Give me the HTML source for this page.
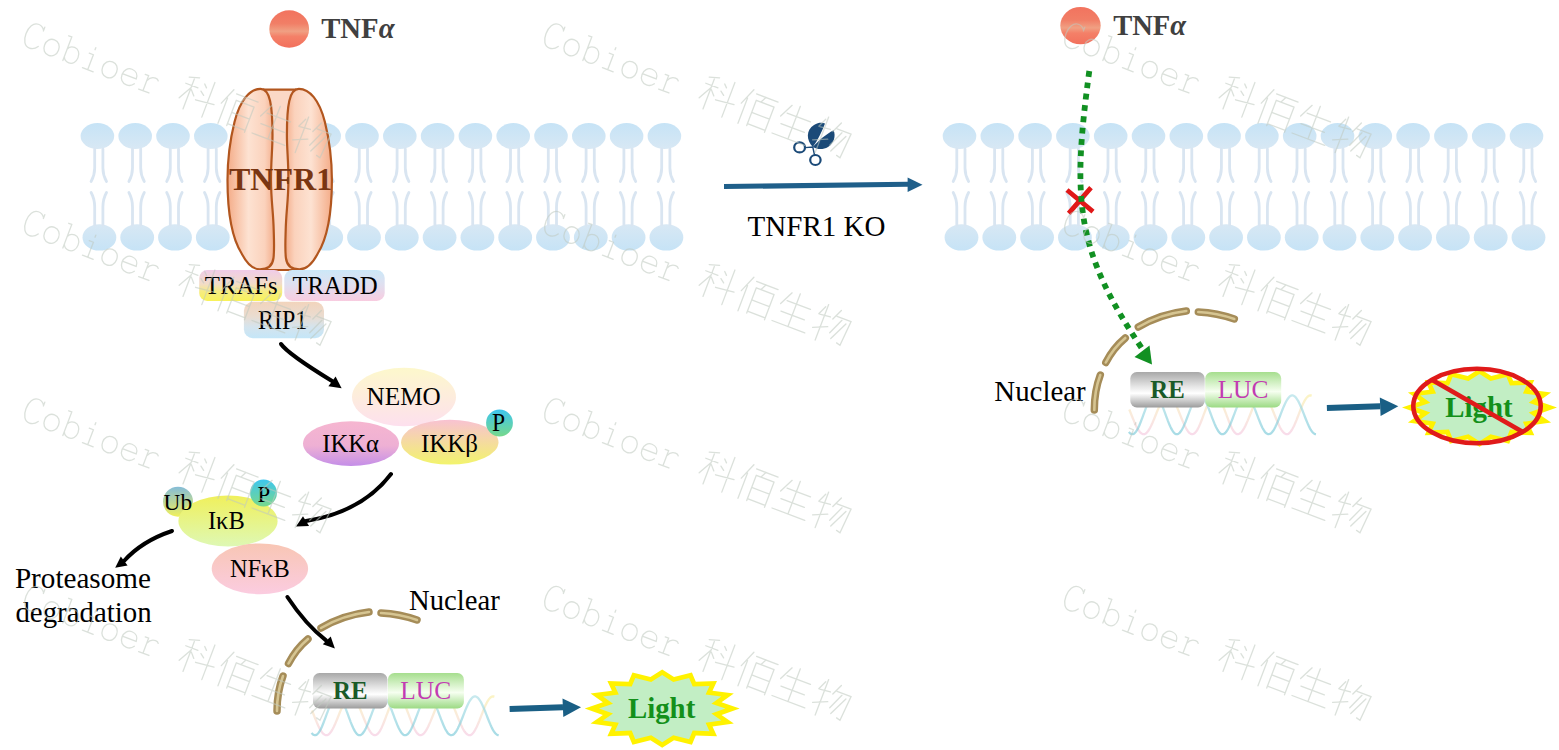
<!DOCTYPE html>
<html><head><meta charset="utf-8"><style>html,body{margin:0;padding:0;background:#fff;overflow:hidden}svg{display:block}</style></head>
<body><svg width="1559" height="750" viewBox="0 0 1559 750"><defs><linearGradient id="headT" x1="0" y1="0" x2="0" y2="1" ><stop offset="0" stop-color="#c6e3f6"/><stop offset="1" stop-color="#d8e8f4"/></linearGradient><linearGradient id="headB" x1="0" y1="0" x2="0" y2="1" ><stop offset="0" stop-color="#d8e8f4"/><stop offset="1" stop-color="#c6e3f6"/></linearGradient><linearGradient id="ball" x1="0" y1="0" x2="0" y2="1" ><stop offset="0" stop-color="#f2735e"/><stop offset="0.35" stop-color="#f17e66"/><stop offset="0.56" stop-color="#f0a083"/><stop offset="0.7" stop-color="#f48068"/><stop offset="1" stop-color="#f2705c"/></linearGradient><linearGradient id="lobe" x1="0" y1="0" x2="1" y2="0" ><stop offset="0" stop-color="#f4ac88"/><stop offset="0.45" stop-color="#fde2d2"/><stop offset="0.8" stop-color="#fbd2bc"/><stop offset="1" stop-color="#f4ae8c"/></linearGradient><linearGradient id="trafs" x1="0" y1="0" x2="0" y2="1" ><stop offset="0" stop-color="#f0cce8"/><stop offset="0.45" stop-color="#f2dcc8"/><stop offset="0.7" stop-color="#f6ec80"/><stop offset="1" stop-color="#f8f25a"/></linearGradient><linearGradient id="tradd" x1="0" y1="0" x2="0" y2="1" ><stop offset="0" stop-color="#cce8f8"/><stop offset="0.45" stop-color="#dfe0f0"/><stop offset="1" stop-color="#f8cce0"/></linearGradient><linearGradient id="rip1" x1="0" y1="0" x2="0" y2="1" ><stop offset="0" stop-color="#f2d4bc"/><stop offset="0.4" stop-color="#eadcd0"/><stop offset="0.7" stop-color="#d4e4ee"/><stop offset="1" stop-color="#c4e6f8"/></linearGradient><linearGradient id="nemo" x1="0" y1="0" x2="0" y2="1" ><stop offset="0" stop-color="#fdf8cc"/><stop offset="1" stop-color="#fde0ee"/></linearGradient><linearGradient id="ikka" x1="0" y1="0" x2="0" y2="1" ><stop offset="0" stop-color="#f6b6d0"/><stop offset="0.55" stop-color="#eeb0d4"/><stop offset="1" stop-color="#c48ee8"/></linearGradient><linearGradient id="ikkb" x1="0" y1="0" x2="0" y2="1" ><stop offset="0" stop-color="#f8c2d2"/><stop offset="1" stop-color="#f2f46c"/></linearGradient><linearGradient id="pcirc" x1="0" y1="0" x2="0" y2="1" ><stop offset="0" stop-color="#3ec6ee"/><stop offset="1" stop-color="#76d88c"/></linearGradient><linearGradient id="ub" x1="0" y1="0" x2="0" y2="1" ><stop offset="0" stop-color="#84bcd8"/><stop offset="1" stop-color="#f0f05c"/></linearGradient><linearGradient id="ikb" x1="0" y1="0" x2="0" y2="1" ><stop offset="0" stop-color="#f0f05c"/><stop offset="1" stop-color="#def8b4"/></linearGradient><linearGradient id="nfkb" x1="0" y1="0" x2="0" y2="1" ><stop offset="0" stop-color="#f8c6b4"/><stop offset="1" stop-color="#fbcce0"/></linearGradient><linearGradient id="reg" x1="0" y1="0" x2="0" y2="1" ><stop offset="0" stop-color="#a8a8a8"/><stop offset="0.4" stop-color="#e4e4e4"/><stop offset="0.6" stop-color="#ffffff"/><stop offset="1" stop-color="#9c9c9c"/></linearGradient><linearGradient id="lucg" x1="0" y1="0" x2="0" y2="1" ><stop offset="0" stop-color="#a6de8e"/><stop offset="0.55" stop-color="#f6fff0"/><stop offset="1" stop-color="#9cda84"/></linearGradient><linearGradient id="dnaC" x1="0" y1="696" x2="0" y2="736" gradientUnits="userSpaceOnUse"><stop offset="0" stop-color="#a6dce4"/><stop offset="1" stop-color="#72c6d6"/></linearGradient><linearGradient id="dnaP" x1="0" y1="696" x2="0" y2="736" gradientUnits="userSpaceOnUse"><stop offset="0" stop-color="#faf0b0"/><stop offset="0.5" stop-color="#f8e4d0"/><stop offset="1" stop-color="#f6cfe4"/></linearGradient></defs><rect width="1559" height="750" fill="#fff"/><ellipse cx="97.4" cy="136.1" rx="16.8" ry="13" fill="url(#headT)"/><ellipse cx="99.4" cy="237.4" rx="16.9" ry="13.2" fill="url(#headB)"/><path d="M94.7,149 L94.7,168 Q94.7,175 91.1,181.5 M102.9,149 L102.9,168 Q102.9,175 106.5,181.5 M91.1,192.5 Q94.7,199 94.7,207 L94.7,225 M106.5,192.5 Q102.9,199 102.9,207 L102.9,225" stroke="#d9e5f1" stroke-width="2.8" fill="none" stroke-linecap="round"/><ellipse cx="135.2" cy="136.1" rx="16.8" ry="13" fill="url(#headT)"/><ellipse cx="137.2" cy="237.4" rx="16.9" ry="13.2" fill="url(#headB)"/><path d="M132.5,149 L132.5,168 Q132.5,175 128.9,181.5 M140.7,149 L140.7,168 Q140.7,175 144.3,181.5 M128.9,192.5 Q132.5,199 132.5,207 L132.5,225 M144.3,192.5 Q140.7,199 140.7,207 L140.7,225" stroke="#d9e5f1" stroke-width="2.8" fill="none" stroke-linecap="round"/><ellipse cx="173.0" cy="136.1" rx="16.8" ry="13" fill="url(#headT)"/><ellipse cx="175.0" cy="237.4" rx="16.9" ry="13.2" fill="url(#headB)"/><path d="M170.3,149 L170.3,168 Q170.3,175 166.7,181.5 M178.5,149 L178.5,168 Q178.5,175 182.1,181.5 M166.7,192.5 Q170.3,199 170.3,207 L170.3,225 M182.1,192.5 Q178.5,199 178.5,207 L178.5,225" stroke="#d9e5f1" stroke-width="2.8" fill="none" stroke-linecap="round"/><ellipse cx="210.8" cy="136.1" rx="16.8" ry="13" fill="url(#headT)"/><ellipse cx="212.8" cy="237.4" rx="16.9" ry="13.2" fill="url(#headB)"/><path d="M208.1,149 L208.1,168 Q208.1,175 204.5,181.5 M216.3,149 L216.3,168 Q216.3,175 219.9,181.5 M204.5,192.5 Q208.1,199 208.1,207 L208.1,225 M219.9,192.5 Q216.3,199 216.3,207 L216.3,225" stroke="#d9e5f1" stroke-width="2.8" fill="none" stroke-linecap="round"/><ellipse cx="248.6" cy="136.1" rx="16.8" ry="13" fill="url(#headT)"/><ellipse cx="250.6" cy="237.4" rx="16.9" ry="13.2" fill="url(#headB)"/><path d="M245.9,149 L245.9,168 Q245.9,175 242.3,181.5 M254.1,149 L254.1,168 Q254.1,175 257.7,181.5 M242.3,192.5 Q245.9,199 245.9,207 L245.9,225 M257.7,192.5 Q254.1,199 254.1,207 L254.1,225" stroke="#d9e5f1" stroke-width="2.8" fill="none" stroke-linecap="round"/><ellipse cx="286.4" cy="136.1" rx="16.8" ry="13" fill="url(#headT)"/><ellipse cx="288.4" cy="237.4" rx="16.9" ry="13.2" fill="url(#headB)"/><path d="M283.7,149 L283.7,168 Q283.7,175 280.1,181.5 M291.9,149 L291.9,168 Q291.9,175 295.5,181.5 M280.1,192.5 Q283.7,199 283.7,207 L283.7,225 M295.5,192.5 Q291.9,199 291.9,207 L291.9,225" stroke="#d9e5f1" stroke-width="2.8" fill="none" stroke-linecap="round"/><ellipse cx="324.2" cy="136.1" rx="16.8" ry="13" fill="url(#headT)"/><ellipse cx="326.2" cy="237.4" rx="16.9" ry="13.2" fill="url(#headB)"/><path d="M321.5,149 L321.5,168 Q321.5,175 317.9,181.5 M329.7,149 L329.7,168 Q329.7,175 333.3,181.5 M317.9,192.5 Q321.5,199 321.5,207 L321.5,225 M333.3,192.5 Q329.7,199 329.7,207 L329.7,225" stroke="#d9e5f1" stroke-width="2.8" fill="none" stroke-linecap="round"/><ellipse cx="362.0" cy="136.1" rx="16.8" ry="13" fill="url(#headT)"/><ellipse cx="364.0" cy="237.4" rx="16.9" ry="13.2" fill="url(#headB)"/><path d="M359.3,149 L359.3,168 Q359.3,175 355.7,181.5 M367.5,149 L367.5,168 Q367.5,175 371.1,181.5 M355.7,192.5 Q359.3,199 359.3,207 L359.3,225 M371.1,192.5 Q367.5,199 367.5,207 L367.5,225" stroke="#d9e5f1" stroke-width="2.8" fill="none" stroke-linecap="round"/><ellipse cx="399.8" cy="136.1" rx="16.8" ry="13" fill="url(#headT)"/><ellipse cx="401.8" cy="237.4" rx="16.9" ry="13.2" fill="url(#headB)"/><path d="M397.1,149 L397.1,168 Q397.1,175 393.5,181.5 M405.3,149 L405.3,168 Q405.3,175 408.9,181.5 M393.5,192.5 Q397.1,199 397.1,207 L397.1,225 M408.9,192.5 Q405.3,199 405.3,207 L405.3,225" stroke="#d9e5f1" stroke-width="2.8" fill="none" stroke-linecap="round"/><ellipse cx="437.6" cy="136.1" rx="16.8" ry="13" fill="url(#headT)"/><ellipse cx="439.6" cy="237.4" rx="16.9" ry="13.2" fill="url(#headB)"/><path d="M434.9,149 L434.9,168 Q434.9,175 431.3,181.5 M443.1,149 L443.1,168 Q443.1,175 446.7,181.5 M431.3,192.5 Q434.9,199 434.9,207 L434.9,225 M446.7,192.5 Q443.1,199 443.1,207 L443.1,225" stroke="#d9e5f1" stroke-width="2.8" fill="none" stroke-linecap="round"/><ellipse cx="475.4" cy="136.1" rx="16.8" ry="13" fill="url(#headT)"/><ellipse cx="477.4" cy="237.4" rx="16.9" ry="13.2" fill="url(#headB)"/><path d="M472.7,149 L472.7,168 Q472.7,175 469.1,181.5 M480.9,149 L480.9,168 Q480.9,175 484.5,181.5 M469.1,192.5 Q472.7,199 472.7,207 L472.7,225 M484.5,192.5 Q480.9,199 480.9,207 L480.9,225" stroke="#d9e5f1" stroke-width="2.8" fill="none" stroke-linecap="round"/><ellipse cx="513.2" cy="136.1" rx="16.8" ry="13" fill="url(#headT)"/><ellipse cx="515.2" cy="237.4" rx="16.9" ry="13.2" fill="url(#headB)"/><path d="M510.5,149 L510.5,168 Q510.5,175 506.9,181.5 M518.7,149 L518.7,168 Q518.7,175 522.3,181.5 M506.9,192.5 Q510.5,199 510.5,207 L510.5,225 M522.3,192.5 Q518.7,199 518.7,207 L518.7,225" stroke="#d9e5f1" stroke-width="2.8" fill="none" stroke-linecap="round"/><ellipse cx="551.0" cy="136.1" rx="16.8" ry="13" fill="url(#headT)"/><ellipse cx="553.0" cy="237.4" rx="16.9" ry="13.2" fill="url(#headB)"/><path d="M548.3,149 L548.3,168 Q548.3,175 544.7,181.5 M556.5,149 L556.5,168 Q556.5,175 560.1,181.5 M544.7,192.5 Q548.3,199 548.3,207 L548.3,225 M560.1,192.5 Q556.5,199 556.5,207 L556.5,225" stroke="#d9e5f1" stroke-width="2.8" fill="none" stroke-linecap="round"/><ellipse cx="588.8" cy="136.1" rx="16.8" ry="13" fill="url(#headT)"/><ellipse cx="590.8" cy="237.4" rx="16.9" ry="13.2" fill="url(#headB)"/><path d="M586.1,149 L586.1,168 Q586.1,175 582.5,181.5 M594.3,149 L594.3,168 Q594.3,175 597.9,181.5 M582.5,192.5 Q586.1,199 586.1,207 L586.1,225 M597.9,192.5 Q594.3,199 594.3,207 L594.3,225" stroke="#d9e5f1" stroke-width="2.8" fill="none" stroke-linecap="round"/><ellipse cx="626.6" cy="136.1" rx="16.8" ry="13" fill="url(#headT)"/><ellipse cx="628.6" cy="237.4" rx="16.9" ry="13.2" fill="url(#headB)"/><path d="M623.9,149 L623.9,168 Q623.9,175 620.3,181.5 M632.1,149 L632.1,168 Q632.1,175 635.7,181.5 M620.3,192.5 Q623.9,199 623.9,207 L623.9,225 M635.7,192.5 Q632.1,199 632.1,207 L632.1,225" stroke="#d9e5f1" stroke-width="2.8" fill="none" stroke-linecap="round"/><ellipse cx="664.4" cy="136.1" rx="16.8" ry="13" fill="url(#headT)"/><ellipse cx="666.4" cy="237.4" rx="16.9" ry="13.2" fill="url(#headB)"/><path d="M661.7,149 L661.7,168 Q661.7,175 658.1,181.5 M669.9,149 L669.9,168 Q669.9,175 673.5,181.5 M658.1,192.5 Q661.7,199 661.7,207 L661.7,225 M673.5,192.5 Q669.9,199 669.9,207 L669.9,225" stroke="#d9e5f1" stroke-width="2.8" fill="none" stroke-linecap="round"/><ellipse cx="959.5" cy="136.1" rx="16.8" ry="13" fill="url(#headT)"/><ellipse cx="961.5" cy="237.4" rx="16.9" ry="13.2" fill="url(#headB)"/><path d="M956.8,149 L956.8,168 Q956.8,175 953.2,181.5 M965.0,149 L965.0,168 Q965.0,175 968.6,181.5 M953.2,192.5 Q956.8,199 956.8,207 L956.8,225 M968.6,192.5 Q965.0,199 965.0,207 L965.0,225" stroke="#d9e5f1" stroke-width="2.8" fill="none" stroke-linecap="round"/><ellipse cx="997.3" cy="136.1" rx="16.8" ry="13" fill="url(#headT)"/><ellipse cx="999.3" cy="237.4" rx="16.9" ry="13.2" fill="url(#headB)"/><path d="M994.6,149 L994.6,168 Q994.6,175 991.0,181.5 M1002.8,149 L1002.8,168 Q1002.8,175 1006.4,181.5 M991.0,192.5 Q994.6,199 994.6,207 L994.6,225 M1006.4,192.5 Q1002.8,199 1002.8,207 L1002.8,225" stroke="#d9e5f1" stroke-width="2.8" fill="none" stroke-linecap="round"/><ellipse cx="1035.1" cy="136.1" rx="16.8" ry="13" fill="url(#headT)"/><ellipse cx="1037.1" cy="237.4" rx="16.9" ry="13.2" fill="url(#headB)"/><path d="M1032.4,149 L1032.4,168 Q1032.4,175 1028.8,181.5 M1040.6,149 L1040.6,168 Q1040.6,175 1044.2,181.5 M1028.8,192.5 Q1032.4,199 1032.4,207 L1032.4,225 M1044.2,192.5 Q1040.6,199 1040.6,207 L1040.6,225" stroke="#d9e5f1" stroke-width="2.8" fill="none" stroke-linecap="round"/><ellipse cx="1072.9" cy="136.1" rx="16.8" ry="13" fill="url(#headT)"/><ellipse cx="1074.9" cy="237.4" rx="16.9" ry="13.2" fill="url(#headB)"/><path d="M1070.2,149 L1070.2,168 Q1070.2,175 1066.6,181.5 M1078.4,149 L1078.4,168 Q1078.4,175 1082.0,181.5 M1066.6,192.5 Q1070.2,199 1070.2,207 L1070.2,225 M1082.0,192.5 Q1078.4,199 1078.4,207 L1078.4,225" stroke="#d9e5f1" stroke-width="2.8" fill="none" stroke-linecap="round"/><ellipse cx="1110.7" cy="136.1" rx="16.8" ry="13" fill="url(#headT)"/><ellipse cx="1112.7" cy="237.4" rx="16.9" ry="13.2" fill="url(#headB)"/><path d="M1108.0,149 L1108.0,168 Q1108.0,175 1104.4,181.5 M1116.2,149 L1116.2,168 Q1116.2,175 1119.8,181.5 M1104.4,192.5 Q1108.0,199 1108.0,207 L1108.0,225 M1119.8,192.5 Q1116.2,199 1116.2,207 L1116.2,225" stroke="#d9e5f1" stroke-width="2.8" fill="none" stroke-linecap="round"/><ellipse cx="1148.5" cy="136.1" rx="16.8" ry="13" fill="url(#headT)"/><ellipse cx="1150.5" cy="237.4" rx="16.9" ry="13.2" fill="url(#headB)"/><path d="M1145.8,149 L1145.8,168 Q1145.8,175 1142.2,181.5 M1154.0,149 L1154.0,168 Q1154.0,175 1157.6,181.5 M1142.2,192.5 Q1145.8,199 1145.8,207 L1145.8,225 M1157.6,192.5 Q1154.0,199 1154.0,207 L1154.0,225" stroke="#d9e5f1" stroke-width="2.8" fill="none" stroke-linecap="round"/><ellipse cx="1186.3" cy="136.1" rx="16.8" ry="13" fill="url(#headT)"/><ellipse cx="1188.3" cy="237.4" rx="16.9" ry="13.2" fill="url(#headB)"/><path d="M1183.6,149 L1183.6,168 Q1183.6,175 1180.0,181.5 M1191.8,149 L1191.8,168 Q1191.8,175 1195.4,181.5 M1180.0,192.5 Q1183.6,199 1183.6,207 L1183.6,225 M1195.4,192.5 Q1191.8,199 1191.8,207 L1191.8,225" stroke="#d9e5f1" stroke-width="2.8" fill="none" stroke-linecap="round"/><ellipse cx="1224.1" cy="136.1" rx="16.8" ry="13" fill="url(#headT)"/><ellipse cx="1226.1" cy="237.4" rx="16.9" ry="13.2" fill="url(#headB)"/><path d="M1221.4,149 L1221.4,168 Q1221.4,175 1217.8,181.5 M1229.6,149 L1229.6,168 Q1229.6,175 1233.2,181.5 M1217.8,192.5 Q1221.4,199 1221.4,207 L1221.4,225 M1233.2,192.5 Q1229.6,199 1229.6,207 L1229.6,225" stroke="#d9e5f1" stroke-width="2.8" fill="none" stroke-linecap="round"/><ellipse cx="1261.9" cy="136.1" rx="16.8" ry="13" fill="url(#headT)"/><ellipse cx="1263.9" cy="237.4" rx="16.9" ry="13.2" fill="url(#headB)"/><path d="M1259.2,149 L1259.2,168 Q1259.2,175 1255.6,181.5 M1267.4,149 L1267.4,168 Q1267.4,175 1271.0,181.5 M1255.6,192.5 Q1259.2,199 1259.2,207 L1259.2,225 M1271.0,192.5 Q1267.4,199 1267.4,207 L1267.4,225" stroke="#d9e5f1" stroke-width="2.8" fill="none" stroke-linecap="round"/><ellipse cx="1299.7" cy="136.1" rx="16.8" ry="13" fill="url(#headT)"/><ellipse cx="1301.7" cy="237.4" rx="16.9" ry="13.2" fill="url(#headB)"/><path d="M1297.0,149 L1297.0,168 Q1297.0,175 1293.4,181.5 M1305.2,149 L1305.2,168 Q1305.2,175 1308.8,181.5 M1293.4,192.5 Q1297.0,199 1297.0,207 L1297.0,225 M1308.8,192.5 Q1305.2,199 1305.2,207 L1305.2,225" stroke="#d9e5f1" stroke-width="2.8" fill="none" stroke-linecap="round"/><ellipse cx="1337.5" cy="136.1" rx="16.8" ry="13" fill="url(#headT)"/><ellipse cx="1339.5" cy="237.4" rx="16.9" ry="13.2" fill="url(#headB)"/><path d="M1334.8,149 L1334.8,168 Q1334.8,175 1331.2,181.5 M1343.0,149 L1343.0,168 Q1343.0,175 1346.6,181.5 M1331.2,192.5 Q1334.8,199 1334.8,207 L1334.8,225 M1346.6,192.5 Q1343.0,199 1343.0,207 L1343.0,225" stroke="#d9e5f1" stroke-width="2.8" fill="none" stroke-linecap="round"/><ellipse cx="1375.3" cy="136.1" rx="16.8" ry="13" fill="url(#headT)"/><ellipse cx="1377.3" cy="237.4" rx="16.9" ry="13.2" fill="url(#headB)"/><path d="M1372.6,149 L1372.6,168 Q1372.6,175 1369.0,181.5 M1380.8,149 L1380.8,168 Q1380.8,175 1384.4,181.5 M1369.0,192.5 Q1372.6,199 1372.6,207 L1372.6,225 M1384.4,192.5 Q1380.8,199 1380.8,207 L1380.8,225" stroke="#d9e5f1" stroke-width="2.8" fill="none" stroke-linecap="round"/><ellipse cx="1413.1" cy="136.1" rx="16.8" ry="13" fill="url(#headT)"/><ellipse cx="1415.1" cy="237.4" rx="16.9" ry="13.2" fill="url(#headB)"/><path d="M1410.4,149 L1410.4,168 Q1410.4,175 1406.8,181.5 M1418.6,149 L1418.6,168 Q1418.6,175 1422.2,181.5 M1406.8,192.5 Q1410.4,199 1410.4,207 L1410.4,225 M1422.2,192.5 Q1418.6,199 1418.6,207 L1418.6,225" stroke="#d9e5f1" stroke-width="2.8" fill="none" stroke-linecap="round"/><ellipse cx="1450.9" cy="136.1" rx="16.8" ry="13" fill="url(#headT)"/><ellipse cx="1452.9" cy="237.4" rx="16.9" ry="13.2" fill="url(#headB)"/><path d="M1448.2,149 L1448.2,168 Q1448.2,175 1444.6,181.5 M1456.4,149 L1456.4,168 Q1456.4,175 1460.0,181.5 M1444.6,192.5 Q1448.2,199 1448.2,207 L1448.2,225 M1460.0,192.5 Q1456.4,199 1456.4,207 L1456.4,225" stroke="#d9e5f1" stroke-width="2.8" fill="none" stroke-linecap="round"/><ellipse cx="1488.7" cy="136.1" rx="16.8" ry="13" fill="url(#headT)"/><ellipse cx="1490.7" cy="237.4" rx="16.9" ry="13.2" fill="url(#headB)"/><path d="M1486.0,149 L1486.0,168 Q1486.0,175 1482.4,181.5 M1494.2,149 L1494.2,168 Q1494.2,175 1497.8,181.5 M1482.4,192.5 Q1486.0,199 1486.0,207 L1486.0,225 M1497.8,192.5 Q1494.2,199 1494.2,207 L1494.2,225" stroke="#d9e5f1" stroke-width="2.8" fill="none" stroke-linecap="round"/><ellipse cx="1526.5" cy="136.1" rx="16.8" ry="13" fill="url(#headT)"/><ellipse cx="1528.5" cy="237.4" rx="16.9" ry="13.2" fill="url(#headB)"/><path d="M1523.8,149 L1523.8,168 Q1523.8,175 1520.2,181.5 M1532.0,149 L1532.0,168 Q1532.0,175 1535.6,181.5 M1520.2,192.5 Q1523.8,199 1523.8,207 L1523.8,225 M1535.6,192.5 Q1532.0,199 1532.0,207 L1532.0,225" stroke="#d9e5f1" stroke-width="2.8" fill="none" stroke-linecap="round"/><ellipse cx="289.2" cy="29" rx="19.9" ry="18.8" fill="url(#ball)"/><ellipse cx="1080.5" cy="25.6" rx="20.2" ry="18.7" fill="url(#ball)"/><path d="M264,89.6 L295.4,89.6 L297,270 L262,270 Z" fill="#fbd8c6" stroke="#b2561e" stroke-width="2.2"/><path d="M260.5,88.8 C250,88.8 240,100 234.5,122 C229.5,142 227.5,160 227.5,180 C227.5,215 233,240 241.9,254 C245,260 251,269.3 260,269.3 C268,269.3 272.5,266 273.5,258 C274.5,250 274,240 273.7,230 C273.3,212 271,200 271,180 C271,160 272.5,150 272.5,135 C272.5,105 270,88.8 260.5,88.8 Z" fill="url(#lobe)" stroke="#b2561e" stroke-width="2.2"/><g transform="translate(559.4,0) scale(-1,1)"><path d="M260.5,88.8 C250,88.8 240,100 234.5,122 C229.5,142 227.5,160 227.5,180 C227.5,215 233,240 241.9,254 C245,260 251,269.3 260,269.3 C268,269.3 272.5,266 273.5,258 C274.5,250 274,240 273.7,230 C273.3,212 271,200 271,180 C271,160 272.5,150 272.5,135 C272.5,105 270,88.8 260.5,88.8 Z" fill="url(#lobe)" stroke="#b2561e" stroke-width="2.2"/></g><rect x="199.2" y="270.1" width="83" height="30.8" rx="8" fill="url(#trafs)"/><rect x="284.3" y="270.1" width="100.4" height="30.8" rx="8" fill="url(#tradd)"/><rect x="243.9" y="301.8" width="80.1" height="36.4" rx="9" fill="url(#rip1)"/><ellipse cx="404" cy="397" rx="52" ry="29.2" fill="url(#nemo)"/><ellipse cx="351" cy="443.6" rx="48" ry="22.4" fill="url(#ikka)"/><ellipse cx="449.8" cy="442.2" rx="48.7" ry="22.4" fill="url(#ikkb)"/><circle cx="499.5" cy="423" r="13.4" fill="url(#pcirc)"/><circle cx="178" cy="501.7" r="15" fill="url(#ub)"/><ellipse cx="228" cy="521" rx="49.6" ry="25.4" fill="url(#ikb)"/><ellipse cx="259.9" cy="568.8" rx="48.2" ry="25.4" fill="url(#nfkb)"/><circle cx="263.5" cy="493" r="13.4" fill="url(#pcirc)"/><path d="M281,344 Q288,354 332,381" stroke="#000" stroke-width="4" fill="none" stroke-linecap="round"/><path d="M341.6,388.2 L335.6,376.6 L328.4,386.2 Z" fill="#000"/><path d="M391,474 Q362,512 306,521" stroke="#000" stroke-width="4" fill="none" stroke-linecap="round"/><path d="M296,526.6 L303,516.3 L309.1,526.1 Z" fill="#000"/><path d="M172,531 Q142,541 124,561" stroke="#000" stroke-width="4" fill="none" stroke-linecap="round"/><path d="M115.2,567.8 L120.8,556.6 L127.6,565.4 Z" fill="#000"/><path d="M287.4,597 Q306,625 326,640.3" stroke="#000" stroke-width="4" fill="none" stroke-linecap="round"/><path d="M334.9,648.5 L330.7,636.4 L322.8,644.3 Z" fill="#000"/><path d="M724,186.6 L908,184.3" stroke="#1f5f8a" stroke-width="5" fill="none"/><path d="M922.5,184.8 L907.6,177.4 L907.6,192.1 Z" fill="#1f5f8a"/><path d="M812.8,147 C806,140 806,130 814,125 C818,122.5 822,122.5 825,123.4 C822,131 818,140 812.8,147 Z" fill="#1b4a78"/><path d="M812.8,147 C818,141 826,134 833.6,130.2 C836,136 834,143 828,147 C823,150 817,149.5 812.8,147 Z" fill="#1b4a78"/><ellipse cx="799.6" cy="147.4" rx="5.4" ry="5" fill="none" stroke="#1b4a78" stroke-width="2.2"/><ellipse cx="815.4" cy="160" rx="5.2" ry="5" fill="none" stroke="#1b4a78" stroke-width="2.2"/><path d="M805,147.6 L812.8,147 L814.5,155" fill="none" stroke="#1b4a78" stroke-width="1.4"/><path d="M283,676 Q277,692 277,711" stroke="#a58c58" stroke-width="7.5" fill="none" stroke-linecap="round"/><path d="M283,676 Q277,692 277,711" stroke="#d6c592" stroke-width="2.6" fill="none" stroke-linecap="round"/><path d="M288.5,663.5 Q296,649 308,639" stroke="#a58c58" stroke-width="7.5" fill="none" stroke-linecap="round"/><path d="M288.5,663.5 Q296,649 308,639" stroke="#d6c592" stroke-width="2.6" fill="none" stroke-linecap="round"/><path d="M321,628 Q343,615 369,612" stroke="#a58c58" stroke-width="7.5" fill="none" stroke-linecap="round"/><path d="M321,628 Q343,615 369,612" stroke="#d6c592" stroke-width="2.6" fill="none" stroke-linecap="round"/><path d="M381,613 Q400,614 417,620" stroke="#a58c58" stroke-width="7.5" fill="none" stroke-linecap="round"/><path d="M381,613 Q400,614 417,620" stroke="#d6c592" stroke-width="2.6" fill="none" stroke-linecap="round"/><polyline points="312.0,710.5 312.8,712.5 313.6,714.5 314.4,716.5 315.2,718.5 316.0,720.4 316.8,722.4 317.6,724.2 318.4,726.0 319.2,727.6 320.0,729.1 320.8,730.5 321.6,731.7 322.4,732.8 323.2,733.7 324.0,734.4 324.8,734.8 325.6,735.1 326.4,735.2 327.2,735.1 328.0,734.7 328.8,734.2 329.6,733.5 330.4,732.5 331.2,731.5 332.0,730.2 332.8,728.8 333.6,727.2 334.4,725.5 335.2,723.8 336.0,721.9 336.8,720.0 337.6,718.0 338.4,716.0 339.2,714.0 340.0,712.0 340.8,710.1 341.6,708.2 342.4,706.4 343.2,704.7 344.0,703.1 344.8,701.7 345.6,700.4 346.4,699.2 347.2,698.3 348.0,697.5 348.8,696.9 349.6,696.6 350.4,696.4 351.2,696.4 352.0,696.7 352.8,697.1 353.6,697.8 354.4,698.6 355.2,699.6 356.0,700.8 356.8,702.2 357.6,703.7 358.4,705.3 359.2,707.1 360.0,708.9 360.8,710.8 361.6,712.7 362.4,714.7 363.2,716.7 364.0,718.7 364.8,720.7 365.6,722.6 366.4,724.4 367.2,726.2 368.0,727.8 368.8,729.3 369.6,730.7 370.4,731.9 371.2,732.9 372.0,733.8 372.8,734.4 373.6,734.9 374.4,735.1 375.2,735.2 376.0,735.0 376.8,734.6 377.6,734.0 378.4,733.1 379.2,732.0 380.0,730.8 380.8,729.3 381.6,727.7 382.4,725.9 383.2,724.0 384.0,722.0 384.8,720.0 385.6,717.9 386.4,715.7 387.2,713.6 388.0,711.5 388.8,709.4 389.6,707.4 390.4,705.6 391.2,703.8 392.0,702.2 392.8,700.8 393.6,699.5 394.4,698.4 395.2,697.6 396.0,697.0 396.8,696.6 397.6,696.4 398.4,696.5 399.2,696.8 400.0,697.3 400.8,698.1 401.6,699.1 402.4,700.3 403.2,701.6 404.0,703.2 404.8,704.9 405.6,706.7 406.4,708.7 407.2,710.7 408.0,712.8 408.8,714.9 409.6,717.1 410.4,719.2 411.2,721.3 412.0,723.3 412.8,725.2 413.6,727.0 414.4,728.7 415.2,730.2 416.0,731.6 416.8,732.7 417.6,733.7 418.4,734.4 419.2,734.9 420.0,735.2 420.8,735.2 421.6,735.0 422.4,734.6 423.2,734.0 424.0,733.3 424.8,732.3 425.6,731.2 426.4,729.9 427.2,728.5 428.0,726.9 428.8,725.2 429.6,723.4 430.4,721.6 431.2,719.6 432.0,717.7 432.8,715.7 433.6,713.7 434.4,711.7 435.2,709.8 436.0,707.9 436.8,706.2 437.6,704.5 438.4,702.9 439.2,701.5 440.0,700.3 440.8,699.1 441.6,698.2 442.4,697.5 443.2,696.9 444.0,696.6 444.8,696.4 445.6,696.5 446.4,696.7 447.2,697.2 448.0,697.8 448.8,698.7 449.6,699.7 450.4,700.9 451.2,702.2 452.0,703.7 452.8,705.3 453.6,707.0 454.4,708.9 455.2,710.8 456.0,712.7 456.8,714.7 457.6,716.7 458.4,718.7 459.2,720.6 460.0,722.5 460.8,724.3 461.6,726.1 462.4,727.7 463.2,729.2 464.0,730.6 464.8,731.8 465.6,732.8 466.4,733.7 467.2,734.4 468.0,734.8 468.8,735.1 469.6,735.2 470.4,735.1 471.2,734.7 472.0,734.1 472.8,733.3 473.6,732.4 474.4,731.2 475.2,729.8 476.0,728.3 476.8,726.7 477.6,724.9 478.4,723.0 479.2,721.1 480.0,719.0 480.8,717.0 481.6,714.9 482.4,712.8 483.2,710.8 484.0,708.8 484.8,706.9 485.6,705.1 486.4,703.5 487.2,701.9 488.0,700.6 488.8,699.4 489.6,698.4 490.4,697.6 491.2,697.0 492.0,696.6 492.8,696.4 493.6,696.5 494.4,696.7" fill="none" stroke="url(#dnaP)" stroke-width="2.3" opacity="0.75"/><polyline points="311.5,732.9 312.3,733.8 313.1,734.5 313.9,735.0 314.7,735.2 315.5,735.2 316.3,734.9 317.1,734.4 317.9,733.6 318.7,732.6 319.5,731.4 320.3,730.0 321.1,728.4 321.9,726.7 322.7,724.8 323.5,722.8 324.3,720.7 325.1,718.6 325.9,716.4 326.7,714.2 327.5,712.1 328.3,709.9 329.1,707.9 329.9,705.9 330.7,704.1 331.5,702.5 332.3,700.9 333.1,699.6 333.9,698.5 334.7,697.6 335.5,697.0 336.3,696.6 337.1,696.4 337.9,696.5 338.7,696.8 339.5,697.4 340.3,698.2 341.1,699.2 341.9,700.4 342.7,701.9 343.5,703.5 344.3,705.2 345.1,707.1 345.9,709.2 346.7,711.3 347.5,713.4 348.3,715.6 349.1,717.8 349.9,719.9 350.7,722.1 351.5,724.1 352.3,726.0 353.1,727.8 353.9,729.4 354.7,730.9 355.5,732.2 356.3,733.3 357.1,734.1 357.9,734.7 358.7,735.1 359.5,735.2 360.3,735.1 361.1,734.7 361.9,734.2 362.7,733.4 363.5,732.3 364.3,731.1 365.1,729.7 365.9,728.2 366.7,726.4 367.5,724.6 368.3,722.7 369.1,720.6 369.9,718.5 370.7,716.4 371.5,714.3 372.3,712.2 373.1,710.1 373.9,708.1 374.7,706.2 375.5,704.4 376.3,702.7 377.1,701.2 377.9,699.9 378.7,698.8 379.5,697.9 380.3,697.2 381.1,696.7 381.9,696.4 382.7,696.4 383.5,696.6 384.3,697.1 385.1,697.8 385.9,698.7 386.7,699.8 387.5,701.1 388.3,702.5 389.1,704.2 389.9,705.9 390.7,707.8 391.5,709.8 392.3,711.9 393.1,714.0 393.9,716.1 394.7,718.3 395.5,720.4 396.3,722.4 397.1,724.4 397.9,726.2 398.7,728.0 399.5,729.5 400.3,731.0 401.1,732.2 401.9,733.2 402.7,734.1 403.5,734.7 404.3,735.1 405.1,735.2 405.9,735.1 406.7,734.8 407.5,734.3 408.3,733.5 409.1,732.5 409.9,731.4 410.7,730.0 411.5,728.5 412.3,726.8 413.1,725.0 413.9,723.1 414.7,721.1 415.5,719.0 416.3,716.9 417.1,714.8 417.9,712.7 418.7,710.6 419.5,708.6 420.3,706.7 421.1,704.9 421.9,703.2 422.7,701.7 423.5,700.3 424.3,699.1 425.1,698.2 425.9,697.4 426.7,696.8 427.5,696.5 428.3,696.4 429.1,696.5 429.9,696.9 430.7,697.5 431.5,698.3 432.3,699.3 433.1,700.5 433.9,701.9 434.7,703.4 435.5,705.1 436.3,707.0 437.1,708.9 437.9,710.9 438.7,713.0 439.5,715.1 440.3,717.2 441.1,719.3 441.9,721.3 442.7,723.3 443.5,725.2 444.3,727.0 445.1,728.7 445.9,730.2 446.7,731.5 447.5,732.7 448.3,733.6 449.1,734.3 449.9,734.8 450.7,735.1 451.5,735.2 452.3,735.0 453.1,734.7 453.9,734.1 454.7,733.3 455.5,732.3 456.3,731.1 457.1,729.7 457.9,728.2 458.7,726.6 459.5,724.8 460.3,723.0 461.1,721.0 461.9,719.0 462.7,717.0 463.5,714.9 464.3,712.9 465.1,710.8 465.9,708.9 466.7,707.0 467.5,705.2 468.3,703.6 469.1,702.0 469.9,700.7 470.7,699.5 471.5,698.5 472.3,697.6 473.1,697.0 473.9,696.6 474.7,696.4 475.5,696.4 476.3,696.7 477.1,697.1 477.9,697.8 478.7,698.7 479.5,699.8 480.3,701.0 481.1,702.4 481.9,704.0 482.7,705.7 483.5,707.5 484.3,709.4 485.1,711.3 485.9,713.4 486.7,715.4 487.5,717.5 488.3,719.5 489.1,721.5 489.9,723.4 490.7,725.3 491.5,727.0 492.3,728.6 493.1,730.1 493.9,731.4 494.7,732.5 495.5,733.5 496.3,734.2 497.1,734.8 497.9,735.1 498.7,735.2" fill="none" stroke="url(#dnaC)" stroke-width="2.3" opacity="0.62"/><rect x="313" y="673" width="74.4" height="35.5" rx="6.5" fill="url(#reg)"/><rect x="387.9" y="673" width="76" height="35.5" rx="6.5" fill="url(#lucg)"/><text x="333.00" y="698.90" font-family="Liberation Serif" font-size="24.83" font-weight="bold" fill="#1a5a28">RE</text><text x="400.33" y="699.40" font-family="Liberation Serif" font-size="25.36" fill="#c23cb2">LUC</text><path d="M509.6,709 L563,707.3" stroke="#1a5f85" stroke-width="6" fill="none"/><path d="M581,707.3 L562.5,698.5 L563.3,717 Z" fill="#1a5f85"/><polygon points="739.7,708.6 721.5,702.3 733.8,693.6 712.5,690.7 717.0,680.9 695.8,681.7 691.9,672.4 674.0,676.9 662.2,669.4 650.4,676.9 632.5,672.4 628.6,681.7 607.4,680.9 611.9,690.7 590.6,693.6 602.9,702.3 584.7,708.6 602.9,714.9 590.6,723.6 611.9,726.5 607.4,736.3 628.6,735.5 632.5,744.8 650.4,740.3 662.2,747.8 674.0,740.3 691.9,744.8 695.8,735.5 717.0,736.3 712.5,726.5 733.8,723.6 721.5,714.9" fill="#fff200"/><polygon points="725.4,708.6 711.4,703.7 721.4,696.6 705.6,694.4 709.5,685.9 692.7,686.6 689.1,677.9 673.2,682.0 662.2,675.0 651.2,682.0 635.3,677.9 631.7,686.6 614.9,685.9 618.8,694.4 603.0,696.6 613.0,703.7 599.0,708.6 613.0,713.5 603.0,720.6 618.8,722.8 614.9,731.3 631.7,730.6 635.3,739.3 651.2,735.2 662.2,742.2 673.2,735.2 689.1,739.3 692.7,730.6 709.5,731.3 705.6,722.8 721.4,720.6 711.4,713.5" fill="#c2eec4"/><text x="627.90" y="717.70" font-family="Liberation Serif" font-size="28.88" font-weight="bold" fill="#13901a">Light</text><g transform="translate(817.3,-301)"><path d="M283,676 Q277,692 277,711" stroke="#a58c58" stroke-width="7.5" fill="none" stroke-linecap="round"/><path d="M283,676 Q277,692 277,711" stroke="#d6c592" stroke-width="2.6" fill="none" stroke-linecap="round"/><path d="M288.5,663.5 Q296,649 308,639" stroke="#a58c58" stroke-width="7.5" fill="none" stroke-linecap="round"/><path d="M288.5,663.5 Q296,649 308,639" stroke="#d6c592" stroke-width="2.6" fill="none" stroke-linecap="round"/><path d="M321,628 Q343,615 369,612" stroke="#a58c58" stroke-width="7.5" fill="none" stroke-linecap="round"/><path d="M321,628 Q343,615 369,612" stroke="#d6c592" stroke-width="2.6" fill="none" stroke-linecap="round"/><path d="M381,613 Q400,614 417,620" stroke="#a58c58" stroke-width="7.5" fill="none" stroke-linecap="round"/><path d="M381,613 Q400,614 417,620" stroke="#d6c592" stroke-width="2.6" fill="none" stroke-linecap="round"/><polyline points="312.0,710.5 312.8,712.5 313.6,714.5 314.4,716.5 315.2,718.5 316.0,720.4 316.8,722.4 317.6,724.2 318.4,726.0 319.2,727.6 320.0,729.1 320.8,730.5 321.6,731.7 322.4,732.8 323.2,733.7 324.0,734.4 324.8,734.8 325.6,735.1 326.4,735.2 327.2,735.1 328.0,734.7 328.8,734.2 329.6,733.5 330.4,732.5 331.2,731.5 332.0,730.2 332.8,728.8 333.6,727.2 334.4,725.5 335.2,723.8 336.0,721.9 336.8,720.0 337.6,718.0 338.4,716.0 339.2,714.0 340.0,712.0 340.8,710.1 341.6,708.2 342.4,706.4 343.2,704.7 344.0,703.1 344.8,701.7 345.6,700.4 346.4,699.2 347.2,698.3 348.0,697.5 348.8,696.9 349.6,696.6 350.4,696.4 351.2,696.4 352.0,696.7 352.8,697.1 353.6,697.8 354.4,698.6 355.2,699.6 356.0,700.8 356.8,702.2 357.6,703.7 358.4,705.3 359.2,707.1 360.0,708.9 360.8,710.8 361.6,712.7 362.4,714.7 363.2,716.7 364.0,718.7 364.8,720.7 365.6,722.6 366.4,724.4 367.2,726.2 368.0,727.8 368.8,729.3 369.6,730.7 370.4,731.9 371.2,732.9 372.0,733.8 372.8,734.4 373.6,734.9 374.4,735.1 375.2,735.2 376.0,735.0 376.8,734.6 377.6,734.0 378.4,733.1 379.2,732.0 380.0,730.8 380.8,729.3 381.6,727.7 382.4,725.9 383.2,724.0 384.0,722.0 384.8,720.0 385.6,717.9 386.4,715.7 387.2,713.6 388.0,711.5 388.8,709.4 389.6,707.4 390.4,705.6 391.2,703.8 392.0,702.2 392.8,700.8 393.6,699.5 394.4,698.4 395.2,697.6 396.0,697.0 396.8,696.6 397.6,696.4 398.4,696.5 399.2,696.8 400.0,697.3 400.8,698.1 401.6,699.1 402.4,700.3 403.2,701.6 404.0,703.2 404.8,704.9 405.6,706.7 406.4,708.7 407.2,710.7 408.0,712.8 408.8,714.9 409.6,717.1 410.4,719.2 411.2,721.3 412.0,723.3 412.8,725.2 413.6,727.0 414.4,728.7 415.2,730.2 416.0,731.6 416.8,732.7 417.6,733.7 418.4,734.4 419.2,734.9 420.0,735.2 420.8,735.2 421.6,735.0 422.4,734.6 423.2,734.0 424.0,733.3 424.8,732.3 425.6,731.2 426.4,729.9 427.2,728.5 428.0,726.9 428.8,725.2 429.6,723.4 430.4,721.6 431.2,719.6 432.0,717.7 432.8,715.7 433.6,713.7 434.4,711.7 435.2,709.8 436.0,707.9 436.8,706.2 437.6,704.5 438.4,702.9 439.2,701.5 440.0,700.3 440.8,699.1 441.6,698.2 442.4,697.5 443.2,696.9 444.0,696.6 444.8,696.4 445.6,696.5 446.4,696.7 447.2,697.2 448.0,697.8 448.8,698.7 449.6,699.7 450.4,700.9 451.2,702.2 452.0,703.7 452.8,705.3 453.6,707.0 454.4,708.9 455.2,710.8 456.0,712.7 456.8,714.7 457.6,716.7 458.4,718.7 459.2,720.6 460.0,722.5 460.8,724.3 461.6,726.1 462.4,727.7 463.2,729.2 464.0,730.6 464.8,731.8 465.6,732.8 466.4,733.7 467.2,734.4 468.0,734.8 468.8,735.1 469.6,735.2 470.4,735.1 471.2,734.7 472.0,734.1 472.8,733.3 473.6,732.4 474.4,731.2 475.2,729.8 476.0,728.3 476.8,726.7 477.6,724.9 478.4,723.0 479.2,721.1 480.0,719.0 480.8,717.0 481.6,714.9 482.4,712.8 483.2,710.8 484.0,708.8 484.8,706.9 485.6,705.1 486.4,703.5 487.2,701.9 488.0,700.6 488.8,699.4 489.6,698.4 490.4,697.6 491.2,697.0 492.0,696.6 492.8,696.4 493.6,696.5 494.4,696.7" fill="none" stroke="url(#dnaP)" stroke-width="2.3" opacity="0.75"/><polyline points="311.5,732.9 312.3,733.8 313.1,734.5 313.9,735.0 314.7,735.2 315.5,735.2 316.3,734.9 317.1,734.4 317.9,733.6 318.7,732.6 319.5,731.4 320.3,730.0 321.1,728.4 321.9,726.7 322.7,724.8 323.5,722.8 324.3,720.7 325.1,718.6 325.9,716.4 326.7,714.2 327.5,712.1 328.3,709.9 329.1,707.9 329.9,705.9 330.7,704.1 331.5,702.5 332.3,700.9 333.1,699.6 333.9,698.5 334.7,697.6 335.5,697.0 336.3,696.6 337.1,696.4 337.9,696.5 338.7,696.8 339.5,697.4 340.3,698.2 341.1,699.2 341.9,700.4 342.7,701.9 343.5,703.5 344.3,705.2 345.1,707.1 345.9,709.2 346.7,711.3 347.5,713.4 348.3,715.6 349.1,717.8 349.9,719.9 350.7,722.1 351.5,724.1 352.3,726.0 353.1,727.8 353.9,729.4 354.7,730.9 355.5,732.2 356.3,733.3 357.1,734.1 357.9,734.7 358.7,735.1 359.5,735.2 360.3,735.1 361.1,734.7 361.9,734.2 362.7,733.4 363.5,732.3 364.3,731.1 365.1,729.7 365.9,728.2 366.7,726.4 367.5,724.6 368.3,722.7 369.1,720.6 369.9,718.5 370.7,716.4 371.5,714.3 372.3,712.2 373.1,710.1 373.9,708.1 374.7,706.2 375.5,704.4 376.3,702.7 377.1,701.2 377.9,699.9 378.7,698.8 379.5,697.9 380.3,697.2 381.1,696.7 381.9,696.4 382.7,696.4 383.5,696.6 384.3,697.1 385.1,697.8 385.9,698.7 386.7,699.8 387.5,701.1 388.3,702.5 389.1,704.2 389.9,705.9 390.7,707.8 391.5,709.8 392.3,711.9 393.1,714.0 393.9,716.1 394.7,718.3 395.5,720.4 396.3,722.4 397.1,724.4 397.9,726.2 398.7,728.0 399.5,729.5 400.3,731.0 401.1,732.2 401.9,733.2 402.7,734.1 403.5,734.7 404.3,735.1 405.1,735.2 405.9,735.1 406.7,734.8 407.5,734.3 408.3,733.5 409.1,732.5 409.9,731.4 410.7,730.0 411.5,728.5 412.3,726.8 413.1,725.0 413.9,723.1 414.7,721.1 415.5,719.0 416.3,716.9 417.1,714.8 417.9,712.7 418.7,710.6 419.5,708.6 420.3,706.7 421.1,704.9 421.9,703.2 422.7,701.7 423.5,700.3 424.3,699.1 425.1,698.2 425.9,697.4 426.7,696.8 427.5,696.5 428.3,696.4 429.1,696.5 429.9,696.9 430.7,697.5 431.5,698.3 432.3,699.3 433.1,700.5 433.9,701.9 434.7,703.4 435.5,705.1 436.3,707.0 437.1,708.9 437.9,710.9 438.7,713.0 439.5,715.1 440.3,717.2 441.1,719.3 441.9,721.3 442.7,723.3 443.5,725.2 444.3,727.0 445.1,728.7 445.9,730.2 446.7,731.5 447.5,732.7 448.3,733.6 449.1,734.3 449.9,734.8 450.7,735.1 451.5,735.2 452.3,735.0 453.1,734.7 453.9,734.1 454.7,733.3 455.5,732.3 456.3,731.1 457.1,729.7 457.9,728.2 458.7,726.6 459.5,724.8 460.3,723.0 461.1,721.0 461.9,719.0 462.7,717.0 463.5,714.9 464.3,712.9 465.1,710.8 465.9,708.9 466.7,707.0 467.5,705.2 468.3,703.6 469.1,702.0 469.9,700.7 470.7,699.5 471.5,698.5 472.3,697.6 473.1,697.0 473.9,696.6 474.7,696.4 475.5,696.4 476.3,696.7 477.1,697.1 477.9,697.8 478.7,698.7 479.5,699.8 480.3,701.0 481.1,702.4 481.9,704.0 482.7,705.7 483.5,707.5 484.3,709.4 485.1,711.3 485.9,713.4 486.7,715.4 487.5,717.5 488.3,719.5 489.1,721.5 489.9,723.4 490.7,725.3 491.5,727.0 492.3,728.6 493.1,730.1 493.9,731.4 494.7,732.5 495.5,733.5 496.3,734.2 497.1,734.8 497.9,735.1 498.7,735.2" fill="none" stroke="url(#dnaC)" stroke-width="2.3" opacity="0.62"/><rect x="313" y="673" width="74.4" height="35.5" rx="6.5" fill="url(#reg)"/><rect x="387.9" y="673" width="76" height="35.5" rx="6.5" fill="url(#lucg)"/><text x="333.00" y="698.90" font-family="Liberation Serif" font-size="24.83" font-weight="bold" fill="#1a5a28">RE</text><text x="400.33" y="699.40" font-family="Liberation Serif" font-size="25.36" fill="#c23cb2">LUC</text><path d="M509.6,709 L563,707.3" stroke="#1a5f85" stroke-width="6" fill="none"/><path d="M581,707.3 L562.5,698.5 L563.3,717 Z" fill="#1a5f85"/><polygon points="739.7,708.6 721.5,702.3 733.8,693.6 712.5,690.7 717.0,680.9 695.8,681.7 691.9,672.4 674.0,676.9 662.2,669.4 650.4,676.9 632.5,672.4 628.6,681.7 607.4,680.9 611.9,690.7 590.6,693.6 602.9,702.3 584.7,708.6 602.9,714.9 590.6,723.6 611.9,726.5 607.4,736.3 628.6,735.5 632.5,744.8 650.4,740.3 662.2,747.8 674.0,740.3 691.9,744.8 695.8,735.5 717.0,736.3 712.5,726.5 733.8,723.6 721.5,714.9" fill="#fff200"/><polygon points="725.4,708.6 711.4,703.7 721.4,696.6 705.6,694.4 709.5,685.9 692.7,686.6 689.1,677.9 673.2,682.0 662.2,675.0 651.2,682.0 635.3,677.9 631.7,686.6 614.9,685.9 618.8,694.4 603.0,696.6 613.0,703.7 599.0,708.6 613.0,713.5 603.0,720.6 618.8,722.8 614.9,731.3 631.7,730.6 635.3,739.3 651.2,735.2 662.2,742.2 673.2,735.2 689.1,739.3 692.7,730.6 709.5,731.3 705.6,722.8 721.4,720.6 711.4,713.5" fill="#c2eec4"/><text x="627.90" y="717.70" font-family="Liberation Serif" font-size="28.88" font-weight="bold" fill="#13901a">Light</text></g><ellipse cx="1477" cy="406" rx="63.7" ry="37.2" fill="none" stroke="#e01a1a" stroke-width="4.6"/><path d="M1432.7,380.3 L1522.4,431.7" stroke="#e01a1a" stroke-width="4.6"/><path d="M1067,190 L1093,211.7 M1091,187.7 L1068.7,213.3" stroke="#e01818" stroke-width="4.8"/><path d="M1089.3,71 C1072,200 1075,250 1143,350" stroke="#119022" stroke-width="5.8" fill="none" stroke-dasharray="5.8 5.6"/><path d="M1152,364.5 L1134.5,357 L1149.5,345.5 Z" fill="#119022"/><text x="321.20" y="38.00" font-family="Liberation Serif" font-size="28.72" font-weight="bold" fill="#404040">TNF<tspan font-style="italic">α</tspan></text><text x="1113.22" y="34.70" font-family="Liberation Serif" font-size="28.55" font-weight="bold" fill="#404040">TNF<tspan font-style="italic">α</tspan></text><text x="229.00" y="190.00" font-family="Liberation Serif" font-size="32.04" font-weight="bold" fill="#7a3612">TNFR1</text><text x="204.80" y="293.50" font-family="Liberation Serif" font-size="24.73" fill="#000">TRAFs</text><text x="292.40" y="293.70" font-family="Liberation Serif" font-size="24.79" fill="#000">TRADD</text><g transform="translate(0,329.10) scale(1,1.12) translate(0,-329.10)"><text x="258.10" y="329.10" font-family="Liberation Serif" font-size="23.95" fill="#000">RIP1</text></g><text x="366.59" y="405.40" font-family="Liberation Serif" font-size="25.18" fill="#000">NEMO</text><text x="322.24" y="452.30" font-family="Liberation Serif" font-size="24.64" fill="#000">IKKα</text><text x="420.95" y="451.60" font-family="Liberation Serif" font-size="24.88" fill="#000">IKKβ</text><g transform="translate(0,431.40) scale(1,1.08) translate(0,-431.40)"><text x="492.08" y="431.40" font-family="Liberation Serif" font-size="23.54" fill="#000">P</text></g><text x="163.58" y="510.00" font-family="Liberation Serif" font-size="23.38" fill="#000">Ub</text><text x="207.95" y="528.70" font-family="Liberation Serif" font-size="24.48" fill="#000">IκB</text><text x="257.48" y="501.70" font-family="Liberation Serif" font-size="22.80" fill="#000">P</text><text x="230.00" y="577.00" font-family="Liberation Serif" font-size="24.35" fill="#000">NFκB</text><text x="14.89" y="587.70" font-family="Liberation Serif" font-size="29.17" fill="#000">Proteasome</text><text x="15.42" y="622.10" font-family="Liberation Serif" font-size="28.86" fill="#000">degradation</text><text x="409.00" y="610.00" font-family="Liberation Serif" font-size="28.66" fill="#000">Nuclear</text><text x="994.31" y="401.00" font-family="Liberation Serif" font-size="28.87" fill="#000">Nuclear</text><text x="747.60" y="235.60" font-family="Liberation Serif" font-size="29.03" fill="#000">TNFR1 KO</text><g transform="translate(20.3,40.7) rotate(20.8)" stroke="#c0cac0" opacity="0.56" stroke-width="1.3" fill="none" stroke-linecap="round"><path d="M17.5,-20.5 L17.5,-24.5 M17.2,-21.5 C15.5,-24 13.2,-25 10.5,-25 C5.2,-25 2.2,-19 2.2,-12 C2.2,-4.8 5.2,0.5 10.6,0.5 C13.8,0.5 16.3,-1.2 18.2,-4.2" transform="translate(0.6,3.2)"/><path d="M10.35,-16.2 C5.8,-16.2 2.9,-12.6 2.9,-7.9 C2.9,-3.1 5.8,0.4 10.35,0.4 C14.9,0.4 17.8,-3.1 17.8,-7.9 C17.8,-12.6 14.9,-16.2 10.35,-16.2 Z" transform="translate(21.3,3.2)"/><path d="M1.5,-25 L4.8,-25 L4.8,0.2 M4.8,-12 C6,-15 8.5,-16.2 11.2,-16.2 C15.2,-16.2 18,-12.8 18,-7.9 C18,-3 15.2,0.4 11.2,0.4 C8.5,0.4 6,-0.8 4.8,-4" transform="translate(42.0,3.2)"/><path d="M10.35,-23.5 L10.35,-21.3 M6.2,-16 L10.6,-16 L10.6,0 M5,0 L16.5,0" transform="translate(62.7,3.2)"/><path d="M10.35,-16.2 C5.8,-16.2 2.9,-12.6 2.9,-7.9 C2.9,-3.1 5.8,0.4 10.35,0.4 C14.9,0.4 17.8,-3.1 17.8,-7.9 C17.8,-12.6 14.9,-16.2 10.35,-16.2 Z" transform="translate(83.4,3.2)"/><path d="M3,-8.6 L17.8,-8.6 C17.8,-13.4 14.8,-16.2 10.5,-16.2 C6,-16.2 3,-12.6 3,-7.8 C3,-2.9 6.2,0.4 10.8,0.4 C13.8,0.4 16.2,-0.9 17.8,-3.4" transform="translate(104.1,3.2)"/><path d="M4,-16 L7.6,-16 L7.6,0 M3,0 L14,0 M7.6,-10.5 C9.2,-14.4 12,-16.2 15,-16.2 C16.6,-16.2 17.8,-15.6 18.4,-14.6" transform="translate(124.8,3.2)"/><path d="M13,-32 L3,-29 M2,-22 L15,-22 M8.5,-29 L8.5,3 M8.5,-20 L1,-6 M9.5,-18 L14,-13 M20,-28 L23,-25 M19,-20 L23,-17 M17,-10 L36,-12 M29,-33 L29,4" transform="translate(167.8,3)"/><path d="M9,-33 L2,-16 M6,-23 L6,4 M13,-30 L36,-30 M23,-30 L20,-24 M15,-24 L15,3 M34,-24 L34,3 M15,-24 L34,-24 M15,-11 L34,-11 M15,1 L34,1" transform="translate(208.1,3)"/><path d="M10,-32 L3,-18 M8,-23 L33,-23 M18,-34 L18,1 M6,-11 L31,-11 M1,1 L36,1" transform="translate(248.4,3)"/><path d="M6,-31 L2,-22 M3,-22 L14,-23 M8,-34 L8,4 M1,-7 L15,-13 M22,-33 L17,-22 M20,-26 L35,-26 L33,0 L29,-1 M26,-24 L19,-8 M31,-22 L22,-3" transform="translate(288.7,3)"/></g><g transform="translate(20.3,228.2) rotate(20.8)" stroke="#c0cac0" opacity="0.56" stroke-width="1.3" fill="none" stroke-linecap="round"><path d="M17.5,-20.5 L17.5,-24.5 M17.2,-21.5 C15.5,-24 13.2,-25 10.5,-25 C5.2,-25 2.2,-19 2.2,-12 C2.2,-4.8 5.2,0.5 10.6,0.5 C13.8,0.5 16.3,-1.2 18.2,-4.2" transform="translate(0.6,3.2)"/><path d="M10.35,-16.2 C5.8,-16.2 2.9,-12.6 2.9,-7.9 C2.9,-3.1 5.8,0.4 10.35,0.4 C14.9,0.4 17.8,-3.1 17.8,-7.9 C17.8,-12.6 14.9,-16.2 10.35,-16.2 Z" transform="translate(21.3,3.2)"/><path d="M1.5,-25 L4.8,-25 L4.8,0.2 M4.8,-12 C6,-15 8.5,-16.2 11.2,-16.2 C15.2,-16.2 18,-12.8 18,-7.9 C18,-3 15.2,0.4 11.2,0.4 C8.5,0.4 6,-0.8 4.8,-4" transform="translate(42.0,3.2)"/><path d="M10.35,-23.5 L10.35,-21.3 M6.2,-16 L10.6,-16 L10.6,0 M5,0 L16.5,0" transform="translate(62.7,3.2)"/><path d="M10.35,-16.2 C5.8,-16.2 2.9,-12.6 2.9,-7.9 C2.9,-3.1 5.8,0.4 10.35,0.4 C14.9,0.4 17.8,-3.1 17.8,-7.9 C17.8,-12.6 14.9,-16.2 10.35,-16.2 Z" transform="translate(83.4,3.2)"/><path d="M3,-8.6 L17.8,-8.6 C17.8,-13.4 14.8,-16.2 10.5,-16.2 C6,-16.2 3,-12.6 3,-7.8 C3,-2.9 6.2,0.4 10.8,0.4 C13.8,0.4 16.2,-0.9 17.8,-3.4" transform="translate(104.1,3.2)"/><path d="M4,-16 L7.6,-16 L7.6,0 M3,0 L14,0 M7.6,-10.5 C9.2,-14.4 12,-16.2 15,-16.2 C16.6,-16.2 17.8,-15.6 18.4,-14.6" transform="translate(124.8,3.2)"/><path d="M13,-32 L3,-29 M2,-22 L15,-22 M8.5,-29 L8.5,3 M8.5,-20 L1,-6 M9.5,-18 L14,-13 M20,-28 L23,-25 M19,-20 L23,-17 M17,-10 L36,-12 M29,-33 L29,4" transform="translate(167.8,3)"/><path d="M9,-33 L2,-16 M6,-23 L6,4 M13,-30 L36,-30 M23,-30 L20,-24 M15,-24 L15,3 M34,-24 L34,3 M15,-24 L34,-24 M15,-11 L34,-11 M15,1 L34,1" transform="translate(208.1,3)"/><path d="M10,-32 L3,-18 M8,-23 L33,-23 M18,-34 L18,1 M6,-11 L31,-11 M1,1 L36,1" transform="translate(248.4,3)"/><path d="M6,-31 L2,-22 M3,-22 L14,-23 M8,-34 L8,4 M1,-7 L15,-13 M22,-33 L17,-22 M20,-26 L35,-26 L33,0 L29,-1 M26,-24 L19,-8 M31,-22 L22,-3" transform="translate(288.7,3)"/></g><g transform="translate(20.3,415.7) rotate(20.8)" stroke="#c0cac0" opacity="0.56" stroke-width="1.3" fill="none" stroke-linecap="round"><path d="M17.5,-20.5 L17.5,-24.5 M17.2,-21.5 C15.5,-24 13.2,-25 10.5,-25 C5.2,-25 2.2,-19 2.2,-12 C2.2,-4.8 5.2,0.5 10.6,0.5 C13.8,0.5 16.3,-1.2 18.2,-4.2" transform="translate(0.6,3.2)"/><path d="M10.35,-16.2 C5.8,-16.2 2.9,-12.6 2.9,-7.9 C2.9,-3.1 5.8,0.4 10.35,0.4 C14.9,0.4 17.8,-3.1 17.8,-7.9 C17.8,-12.6 14.9,-16.2 10.35,-16.2 Z" transform="translate(21.3,3.2)"/><path d="M1.5,-25 L4.8,-25 L4.8,0.2 M4.8,-12 C6,-15 8.5,-16.2 11.2,-16.2 C15.2,-16.2 18,-12.8 18,-7.9 C18,-3 15.2,0.4 11.2,0.4 C8.5,0.4 6,-0.8 4.8,-4" transform="translate(42.0,3.2)"/><path d="M10.35,-23.5 L10.35,-21.3 M6.2,-16 L10.6,-16 L10.6,0 M5,0 L16.5,0" transform="translate(62.7,3.2)"/><path d="M10.35,-16.2 C5.8,-16.2 2.9,-12.6 2.9,-7.9 C2.9,-3.1 5.8,0.4 10.35,0.4 C14.9,0.4 17.8,-3.1 17.8,-7.9 C17.8,-12.6 14.9,-16.2 10.35,-16.2 Z" transform="translate(83.4,3.2)"/><path d="M3,-8.6 L17.8,-8.6 C17.8,-13.4 14.8,-16.2 10.5,-16.2 C6,-16.2 3,-12.6 3,-7.8 C3,-2.9 6.2,0.4 10.8,0.4 C13.8,0.4 16.2,-0.9 17.8,-3.4" transform="translate(104.1,3.2)"/><path d="M4,-16 L7.6,-16 L7.6,0 M3,0 L14,0 M7.6,-10.5 C9.2,-14.4 12,-16.2 15,-16.2 C16.6,-16.2 17.8,-15.6 18.4,-14.6" transform="translate(124.8,3.2)"/><path d="M13,-32 L3,-29 M2,-22 L15,-22 M8.5,-29 L8.5,3 M8.5,-20 L1,-6 M9.5,-18 L14,-13 M20,-28 L23,-25 M19,-20 L23,-17 M17,-10 L36,-12 M29,-33 L29,4" transform="translate(167.8,3)"/><path d="M9,-33 L2,-16 M6,-23 L6,4 M13,-30 L36,-30 M23,-30 L20,-24 M15,-24 L15,3 M34,-24 L34,3 M15,-24 L34,-24 M15,-11 L34,-11 M15,1 L34,1" transform="translate(208.1,3)"/><path d="M10,-32 L3,-18 M8,-23 L33,-23 M18,-34 L18,1 M6,-11 L31,-11 M1,1 L36,1" transform="translate(248.4,3)"/><path d="M6,-31 L2,-22 M3,-22 L14,-23 M8,-34 L8,4 M1,-7 L15,-13 M22,-33 L17,-22 M20,-26 L35,-26 L33,0 L29,-1 M26,-24 L19,-8 M31,-22 L22,-3" transform="translate(288.7,3)"/></g><g transform="translate(20.3,603.2) rotate(20.8)" stroke="#c0cac0" opacity="0.56" stroke-width="1.3" fill="none" stroke-linecap="round"><path d="M17.5,-20.5 L17.5,-24.5 M17.2,-21.5 C15.5,-24 13.2,-25 10.5,-25 C5.2,-25 2.2,-19 2.2,-12 C2.2,-4.8 5.2,0.5 10.6,0.5 C13.8,0.5 16.3,-1.2 18.2,-4.2" transform="translate(0.6,3.2)"/><path d="M10.35,-16.2 C5.8,-16.2 2.9,-12.6 2.9,-7.9 C2.9,-3.1 5.8,0.4 10.35,0.4 C14.9,0.4 17.8,-3.1 17.8,-7.9 C17.8,-12.6 14.9,-16.2 10.35,-16.2 Z" transform="translate(21.3,3.2)"/><path d="M1.5,-25 L4.8,-25 L4.8,0.2 M4.8,-12 C6,-15 8.5,-16.2 11.2,-16.2 C15.2,-16.2 18,-12.8 18,-7.9 C18,-3 15.2,0.4 11.2,0.4 C8.5,0.4 6,-0.8 4.8,-4" transform="translate(42.0,3.2)"/><path d="M10.35,-23.5 L10.35,-21.3 M6.2,-16 L10.6,-16 L10.6,0 M5,0 L16.5,0" transform="translate(62.7,3.2)"/><path d="M10.35,-16.2 C5.8,-16.2 2.9,-12.6 2.9,-7.9 C2.9,-3.1 5.8,0.4 10.35,0.4 C14.9,0.4 17.8,-3.1 17.8,-7.9 C17.8,-12.6 14.9,-16.2 10.35,-16.2 Z" transform="translate(83.4,3.2)"/><path d="M3,-8.6 L17.8,-8.6 C17.8,-13.4 14.8,-16.2 10.5,-16.2 C6,-16.2 3,-12.6 3,-7.8 C3,-2.9 6.2,0.4 10.8,0.4 C13.8,0.4 16.2,-0.9 17.8,-3.4" transform="translate(104.1,3.2)"/><path d="M4,-16 L7.6,-16 L7.6,0 M3,0 L14,0 M7.6,-10.5 C9.2,-14.4 12,-16.2 15,-16.2 C16.6,-16.2 17.8,-15.6 18.4,-14.6" transform="translate(124.8,3.2)"/><path d="M13,-32 L3,-29 M2,-22 L15,-22 M8.5,-29 L8.5,3 M8.5,-20 L1,-6 M9.5,-18 L14,-13 M20,-28 L23,-25 M19,-20 L23,-17 M17,-10 L36,-12 M29,-33 L29,4" transform="translate(167.8,3)"/><path d="M9,-33 L2,-16 M6,-23 L6,4 M13,-30 L36,-30 M23,-30 L20,-24 M15,-24 L15,3 M34,-24 L34,3 M15,-24 L34,-24 M15,-11 L34,-11 M15,1 L34,1" transform="translate(208.1,3)"/><path d="M10,-32 L3,-18 M8,-23 L33,-23 M18,-34 L18,1 M6,-11 L31,-11 M1,1 L36,1" transform="translate(248.4,3)"/><path d="M6,-31 L2,-22 M3,-22 L14,-23 M8,-34 L8,4 M1,-7 L15,-13 M22,-33 L17,-22 M20,-26 L35,-26 L33,0 L29,-1 M26,-24 L19,-8 M31,-22 L22,-3" transform="translate(288.7,3)"/></g><g transform="translate(540.3,40.7) rotate(20.8)" stroke="#c0cac0" opacity="0.56" stroke-width="1.3" fill="none" stroke-linecap="round"><path d="M17.5,-20.5 L17.5,-24.5 M17.2,-21.5 C15.5,-24 13.2,-25 10.5,-25 C5.2,-25 2.2,-19 2.2,-12 C2.2,-4.8 5.2,0.5 10.6,0.5 C13.8,0.5 16.3,-1.2 18.2,-4.2" transform="translate(0.6,3.2)"/><path d="M10.35,-16.2 C5.8,-16.2 2.9,-12.6 2.9,-7.9 C2.9,-3.1 5.8,0.4 10.35,0.4 C14.9,0.4 17.8,-3.1 17.8,-7.9 C17.8,-12.6 14.9,-16.2 10.35,-16.2 Z" transform="translate(21.3,3.2)"/><path d="M1.5,-25 L4.8,-25 L4.8,0.2 M4.8,-12 C6,-15 8.5,-16.2 11.2,-16.2 C15.2,-16.2 18,-12.8 18,-7.9 C18,-3 15.2,0.4 11.2,0.4 C8.5,0.4 6,-0.8 4.8,-4" transform="translate(42.0,3.2)"/><path d="M10.35,-23.5 L10.35,-21.3 M6.2,-16 L10.6,-16 L10.6,0 M5,0 L16.5,0" transform="translate(62.7,3.2)"/><path d="M10.35,-16.2 C5.8,-16.2 2.9,-12.6 2.9,-7.9 C2.9,-3.1 5.8,0.4 10.35,0.4 C14.9,0.4 17.8,-3.1 17.8,-7.9 C17.8,-12.6 14.9,-16.2 10.35,-16.2 Z" transform="translate(83.4,3.2)"/><path d="M3,-8.6 L17.8,-8.6 C17.8,-13.4 14.8,-16.2 10.5,-16.2 C6,-16.2 3,-12.6 3,-7.8 C3,-2.9 6.2,0.4 10.8,0.4 C13.8,0.4 16.2,-0.9 17.8,-3.4" transform="translate(104.1,3.2)"/><path d="M4,-16 L7.6,-16 L7.6,0 M3,0 L14,0 M7.6,-10.5 C9.2,-14.4 12,-16.2 15,-16.2 C16.6,-16.2 17.8,-15.6 18.4,-14.6" transform="translate(124.8,3.2)"/><path d="M13,-32 L3,-29 M2,-22 L15,-22 M8.5,-29 L8.5,3 M8.5,-20 L1,-6 M9.5,-18 L14,-13 M20,-28 L23,-25 M19,-20 L23,-17 M17,-10 L36,-12 M29,-33 L29,4" transform="translate(167.8,3)"/><path d="M9,-33 L2,-16 M6,-23 L6,4 M13,-30 L36,-30 M23,-30 L20,-24 M15,-24 L15,3 M34,-24 L34,3 M15,-24 L34,-24 M15,-11 L34,-11 M15,1 L34,1" transform="translate(208.1,3)"/><path d="M10,-32 L3,-18 M8,-23 L33,-23 M18,-34 L18,1 M6,-11 L31,-11 M1,1 L36,1" transform="translate(248.4,3)"/><path d="M6,-31 L2,-22 M3,-22 L14,-23 M8,-34 L8,4 M1,-7 L15,-13 M22,-33 L17,-22 M20,-26 L35,-26 L33,0 L29,-1 M26,-24 L19,-8 M31,-22 L22,-3" transform="translate(288.7,3)"/></g><g transform="translate(540.3,228.2) rotate(20.8)" stroke="#c0cac0" opacity="0.56" stroke-width="1.3" fill="none" stroke-linecap="round"><path d="M17.5,-20.5 L17.5,-24.5 M17.2,-21.5 C15.5,-24 13.2,-25 10.5,-25 C5.2,-25 2.2,-19 2.2,-12 C2.2,-4.8 5.2,0.5 10.6,0.5 C13.8,0.5 16.3,-1.2 18.2,-4.2" transform="translate(0.6,3.2)"/><path d="M10.35,-16.2 C5.8,-16.2 2.9,-12.6 2.9,-7.9 C2.9,-3.1 5.8,0.4 10.35,0.4 C14.9,0.4 17.8,-3.1 17.8,-7.9 C17.8,-12.6 14.9,-16.2 10.35,-16.2 Z" transform="translate(21.3,3.2)"/><path d="M1.5,-25 L4.8,-25 L4.8,0.2 M4.8,-12 C6,-15 8.5,-16.2 11.2,-16.2 C15.2,-16.2 18,-12.8 18,-7.9 C18,-3 15.2,0.4 11.2,0.4 C8.5,0.4 6,-0.8 4.8,-4" transform="translate(42.0,3.2)"/><path d="M10.35,-23.5 L10.35,-21.3 M6.2,-16 L10.6,-16 L10.6,0 M5,0 L16.5,0" transform="translate(62.7,3.2)"/><path d="M10.35,-16.2 C5.8,-16.2 2.9,-12.6 2.9,-7.9 C2.9,-3.1 5.8,0.4 10.35,0.4 C14.9,0.4 17.8,-3.1 17.8,-7.9 C17.8,-12.6 14.9,-16.2 10.35,-16.2 Z" transform="translate(83.4,3.2)"/><path d="M3,-8.6 L17.8,-8.6 C17.8,-13.4 14.8,-16.2 10.5,-16.2 C6,-16.2 3,-12.6 3,-7.8 C3,-2.9 6.2,0.4 10.8,0.4 C13.8,0.4 16.2,-0.9 17.8,-3.4" transform="translate(104.1,3.2)"/><path d="M4,-16 L7.6,-16 L7.6,0 M3,0 L14,0 M7.6,-10.5 C9.2,-14.4 12,-16.2 15,-16.2 C16.6,-16.2 17.8,-15.6 18.4,-14.6" transform="translate(124.8,3.2)"/><path d="M13,-32 L3,-29 M2,-22 L15,-22 M8.5,-29 L8.5,3 M8.5,-20 L1,-6 M9.5,-18 L14,-13 M20,-28 L23,-25 M19,-20 L23,-17 M17,-10 L36,-12 M29,-33 L29,4" transform="translate(167.8,3)"/><path d="M9,-33 L2,-16 M6,-23 L6,4 M13,-30 L36,-30 M23,-30 L20,-24 M15,-24 L15,3 M34,-24 L34,3 M15,-24 L34,-24 M15,-11 L34,-11 M15,1 L34,1" transform="translate(208.1,3)"/><path d="M10,-32 L3,-18 M8,-23 L33,-23 M18,-34 L18,1 M6,-11 L31,-11 M1,1 L36,1" transform="translate(248.4,3)"/><path d="M6,-31 L2,-22 M3,-22 L14,-23 M8,-34 L8,4 M1,-7 L15,-13 M22,-33 L17,-22 M20,-26 L35,-26 L33,0 L29,-1 M26,-24 L19,-8 M31,-22 L22,-3" transform="translate(288.7,3)"/></g><g transform="translate(540.3,415.7) rotate(20.8)" stroke="#c0cac0" opacity="0.56" stroke-width="1.3" fill="none" stroke-linecap="round"><path d="M17.5,-20.5 L17.5,-24.5 M17.2,-21.5 C15.5,-24 13.2,-25 10.5,-25 C5.2,-25 2.2,-19 2.2,-12 C2.2,-4.8 5.2,0.5 10.6,0.5 C13.8,0.5 16.3,-1.2 18.2,-4.2" transform="translate(0.6,3.2)"/><path d="M10.35,-16.2 C5.8,-16.2 2.9,-12.6 2.9,-7.9 C2.9,-3.1 5.8,0.4 10.35,0.4 C14.9,0.4 17.8,-3.1 17.8,-7.9 C17.8,-12.6 14.9,-16.2 10.35,-16.2 Z" transform="translate(21.3,3.2)"/><path d="M1.5,-25 L4.8,-25 L4.8,0.2 M4.8,-12 C6,-15 8.5,-16.2 11.2,-16.2 C15.2,-16.2 18,-12.8 18,-7.9 C18,-3 15.2,0.4 11.2,0.4 C8.5,0.4 6,-0.8 4.8,-4" transform="translate(42.0,3.2)"/><path d="M10.35,-23.5 L10.35,-21.3 M6.2,-16 L10.6,-16 L10.6,0 M5,0 L16.5,0" transform="translate(62.7,3.2)"/><path d="M10.35,-16.2 C5.8,-16.2 2.9,-12.6 2.9,-7.9 C2.9,-3.1 5.8,0.4 10.35,0.4 C14.9,0.4 17.8,-3.1 17.8,-7.9 C17.8,-12.6 14.9,-16.2 10.35,-16.2 Z" transform="translate(83.4,3.2)"/><path d="M3,-8.6 L17.8,-8.6 C17.8,-13.4 14.8,-16.2 10.5,-16.2 C6,-16.2 3,-12.6 3,-7.8 C3,-2.9 6.2,0.4 10.8,0.4 C13.8,0.4 16.2,-0.9 17.8,-3.4" transform="translate(104.1,3.2)"/><path d="M4,-16 L7.6,-16 L7.6,0 M3,0 L14,0 M7.6,-10.5 C9.2,-14.4 12,-16.2 15,-16.2 C16.6,-16.2 17.8,-15.6 18.4,-14.6" transform="translate(124.8,3.2)"/><path d="M13,-32 L3,-29 M2,-22 L15,-22 M8.5,-29 L8.5,3 M8.5,-20 L1,-6 M9.5,-18 L14,-13 M20,-28 L23,-25 M19,-20 L23,-17 M17,-10 L36,-12 M29,-33 L29,4" transform="translate(167.8,3)"/><path d="M9,-33 L2,-16 M6,-23 L6,4 M13,-30 L36,-30 M23,-30 L20,-24 M15,-24 L15,3 M34,-24 L34,3 M15,-24 L34,-24 M15,-11 L34,-11 M15,1 L34,1" transform="translate(208.1,3)"/><path d="M10,-32 L3,-18 M8,-23 L33,-23 M18,-34 L18,1 M6,-11 L31,-11 M1,1 L36,1" transform="translate(248.4,3)"/><path d="M6,-31 L2,-22 M3,-22 L14,-23 M8,-34 L8,4 M1,-7 L15,-13 M22,-33 L17,-22 M20,-26 L35,-26 L33,0 L29,-1 M26,-24 L19,-8 M31,-22 L22,-3" transform="translate(288.7,3)"/></g><g transform="translate(540.3,603.2) rotate(20.8)" stroke="#c0cac0" opacity="0.56" stroke-width="1.3" fill="none" stroke-linecap="round"><path d="M17.5,-20.5 L17.5,-24.5 M17.2,-21.5 C15.5,-24 13.2,-25 10.5,-25 C5.2,-25 2.2,-19 2.2,-12 C2.2,-4.8 5.2,0.5 10.6,0.5 C13.8,0.5 16.3,-1.2 18.2,-4.2" transform="translate(0.6,3.2)"/><path d="M10.35,-16.2 C5.8,-16.2 2.9,-12.6 2.9,-7.9 C2.9,-3.1 5.8,0.4 10.35,0.4 C14.9,0.4 17.8,-3.1 17.8,-7.9 C17.8,-12.6 14.9,-16.2 10.35,-16.2 Z" transform="translate(21.3,3.2)"/><path d="M1.5,-25 L4.8,-25 L4.8,0.2 M4.8,-12 C6,-15 8.5,-16.2 11.2,-16.2 C15.2,-16.2 18,-12.8 18,-7.9 C18,-3 15.2,0.4 11.2,0.4 C8.5,0.4 6,-0.8 4.8,-4" transform="translate(42.0,3.2)"/><path d="M10.35,-23.5 L10.35,-21.3 M6.2,-16 L10.6,-16 L10.6,0 M5,0 L16.5,0" transform="translate(62.7,3.2)"/><path d="M10.35,-16.2 C5.8,-16.2 2.9,-12.6 2.9,-7.9 C2.9,-3.1 5.8,0.4 10.35,0.4 C14.9,0.4 17.8,-3.1 17.8,-7.9 C17.8,-12.6 14.9,-16.2 10.35,-16.2 Z" transform="translate(83.4,3.2)"/><path d="M3,-8.6 L17.8,-8.6 C17.8,-13.4 14.8,-16.2 10.5,-16.2 C6,-16.2 3,-12.6 3,-7.8 C3,-2.9 6.2,0.4 10.8,0.4 C13.8,0.4 16.2,-0.9 17.8,-3.4" transform="translate(104.1,3.2)"/><path d="M4,-16 L7.6,-16 L7.6,0 M3,0 L14,0 M7.6,-10.5 C9.2,-14.4 12,-16.2 15,-16.2 C16.6,-16.2 17.8,-15.6 18.4,-14.6" transform="translate(124.8,3.2)"/><path d="M13,-32 L3,-29 M2,-22 L15,-22 M8.5,-29 L8.5,3 M8.5,-20 L1,-6 M9.5,-18 L14,-13 M20,-28 L23,-25 M19,-20 L23,-17 M17,-10 L36,-12 M29,-33 L29,4" transform="translate(167.8,3)"/><path d="M9,-33 L2,-16 M6,-23 L6,4 M13,-30 L36,-30 M23,-30 L20,-24 M15,-24 L15,3 M34,-24 L34,3 M15,-24 L34,-24 M15,-11 L34,-11 M15,1 L34,1" transform="translate(208.1,3)"/><path d="M10,-32 L3,-18 M8,-23 L33,-23 M18,-34 L18,1 M6,-11 L31,-11 M1,1 L36,1" transform="translate(248.4,3)"/><path d="M6,-31 L2,-22 M3,-22 L14,-23 M8,-34 L8,4 M1,-7 L15,-13 M22,-33 L17,-22 M20,-26 L35,-26 L33,0 L29,-1 M26,-24 L19,-8 M31,-22 L22,-3" transform="translate(288.7,3)"/></g><g transform="translate(1060.3,40.7) rotate(20.8)" stroke="#c0cac0" opacity="0.56" stroke-width="1.3" fill="none" stroke-linecap="round"><path d="M17.5,-20.5 L17.5,-24.5 M17.2,-21.5 C15.5,-24 13.2,-25 10.5,-25 C5.2,-25 2.2,-19 2.2,-12 C2.2,-4.8 5.2,0.5 10.6,0.5 C13.8,0.5 16.3,-1.2 18.2,-4.2" transform="translate(0.6,3.2)"/><path d="M10.35,-16.2 C5.8,-16.2 2.9,-12.6 2.9,-7.9 C2.9,-3.1 5.8,0.4 10.35,0.4 C14.9,0.4 17.8,-3.1 17.8,-7.9 C17.8,-12.6 14.9,-16.2 10.35,-16.2 Z" transform="translate(21.3,3.2)"/><path d="M1.5,-25 L4.8,-25 L4.8,0.2 M4.8,-12 C6,-15 8.5,-16.2 11.2,-16.2 C15.2,-16.2 18,-12.8 18,-7.9 C18,-3 15.2,0.4 11.2,0.4 C8.5,0.4 6,-0.8 4.8,-4" transform="translate(42.0,3.2)"/><path d="M10.35,-23.5 L10.35,-21.3 M6.2,-16 L10.6,-16 L10.6,0 M5,0 L16.5,0" transform="translate(62.7,3.2)"/><path d="M10.35,-16.2 C5.8,-16.2 2.9,-12.6 2.9,-7.9 C2.9,-3.1 5.8,0.4 10.35,0.4 C14.9,0.4 17.8,-3.1 17.8,-7.9 C17.8,-12.6 14.9,-16.2 10.35,-16.2 Z" transform="translate(83.4,3.2)"/><path d="M3,-8.6 L17.8,-8.6 C17.8,-13.4 14.8,-16.2 10.5,-16.2 C6,-16.2 3,-12.6 3,-7.8 C3,-2.9 6.2,0.4 10.8,0.4 C13.8,0.4 16.2,-0.9 17.8,-3.4" transform="translate(104.1,3.2)"/><path d="M4,-16 L7.6,-16 L7.6,0 M3,0 L14,0 M7.6,-10.5 C9.2,-14.4 12,-16.2 15,-16.2 C16.6,-16.2 17.8,-15.6 18.4,-14.6" transform="translate(124.8,3.2)"/><path d="M13,-32 L3,-29 M2,-22 L15,-22 M8.5,-29 L8.5,3 M8.5,-20 L1,-6 M9.5,-18 L14,-13 M20,-28 L23,-25 M19,-20 L23,-17 M17,-10 L36,-12 M29,-33 L29,4" transform="translate(167.8,3)"/><path d="M9,-33 L2,-16 M6,-23 L6,4 M13,-30 L36,-30 M23,-30 L20,-24 M15,-24 L15,3 M34,-24 L34,3 M15,-24 L34,-24 M15,-11 L34,-11 M15,1 L34,1" transform="translate(208.1,3)"/><path d="M10,-32 L3,-18 M8,-23 L33,-23 M18,-34 L18,1 M6,-11 L31,-11 M1,1 L36,1" transform="translate(248.4,3)"/><path d="M6,-31 L2,-22 M3,-22 L14,-23 M8,-34 L8,4 M1,-7 L15,-13 M22,-33 L17,-22 M20,-26 L35,-26 L33,0 L29,-1 M26,-24 L19,-8 M31,-22 L22,-3" transform="translate(288.7,3)"/></g><g transform="translate(1060.3,228.2) rotate(20.8)" stroke="#c0cac0" opacity="0.56" stroke-width="1.3" fill="none" stroke-linecap="round"><path d="M17.5,-20.5 L17.5,-24.5 M17.2,-21.5 C15.5,-24 13.2,-25 10.5,-25 C5.2,-25 2.2,-19 2.2,-12 C2.2,-4.8 5.2,0.5 10.6,0.5 C13.8,0.5 16.3,-1.2 18.2,-4.2" transform="translate(0.6,3.2)"/><path d="M10.35,-16.2 C5.8,-16.2 2.9,-12.6 2.9,-7.9 C2.9,-3.1 5.8,0.4 10.35,0.4 C14.9,0.4 17.8,-3.1 17.8,-7.9 C17.8,-12.6 14.9,-16.2 10.35,-16.2 Z" transform="translate(21.3,3.2)"/><path d="M1.5,-25 L4.8,-25 L4.8,0.2 M4.8,-12 C6,-15 8.5,-16.2 11.2,-16.2 C15.2,-16.2 18,-12.8 18,-7.9 C18,-3 15.2,0.4 11.2,0.4 C8.5,0.4 6,-0.8 4.8,-4" transform="translate(42.0,3.2)"/><path d="M10.35,-23.5 L10.35,-21.3 M6.2,-16 L10.6,-16 L10.6,0 M5,0 L16.5,0" transform="translate(62.7,3.2)"/><path d="M10.35,-16.2 C5.8,-16.2 2.9,-12.6 2.9,-7.9 C2.9,-3.1 5.8,0.4 10.35,0.4 C14.9,0.4 17.8,-3.1 17.8,-7.9 C17.8,-12.6 14.9,-16.2 10.35,-16.2 Z" transform="translate(83.4,3.2)"/><path d="M3,-8.6 L17.8,-8.6 C17.8,-13.4 14.8,-16.2 10.5,-16.2 C6,-16.2 3,-12.6 3,-7.8 C3,-2.9 6.2,0.4 10.8,0.4 C13.8,0.4 16.2,-0.9 17.8,-3.4" transform="translate(104.1,3.2)"/><path d="M4,-16 L7.6,-16 L7.6,0 M3,0 L14,0 M7.6,-10.5 C9.2,-14.4 12,-16.2 15,-16.2 C16.6,-16.2 17.8,-15.6 18.4,-14.6" transform="translate(124.8,3.2)"/><path d="M13,-32 L3,-29 M2,-22 L15,-22 M8.5,-29 L8.5,3 M8.5,-20 L1,-6 M9.5,-18 L14,-13 M20,-28 L23,-25 M19,-20 L23,-17 M17,-10 L36,-12 M29,-33 L29,4" transform="translate(167.8,3)"/><path d="M9,-33 L2,-16 M6,-23 L6,4 M13,-30 L36,-30 M23,-30 L20,-24 M15,-24 L15,3 M34,-24 L34,3 M15,-24 L34,-24 M15,-11 L34,-11 M15,1 L34,1" transform="translate(208.1,3)"/><path d="M10,-32 L3,-18 M8,-23 L33,-23 M18,-34 L18,1 M6,-11 L31,-11 M1,1 L36,1" transform="translate(248.4,3)"/><path d="M6,-31 L2,-22 M3,-22 L14,-23 M8,-34 L8,4 M1,-7 L15,-13 M22,-33 L17,-22 M20,-26 L35,-26 L33,0 L29,-1 M26,-24 L19,-8 M31,-22 L22,-3" transform="translate(288.7,3)"/></g><g transform="translate(1060.3,415.7) rotate(20.8)" stroke="#c0cac0" opacity="0.56" stroke-width="1.3" fill="none" stroke-linecap="round"><path d="M17.5,-20.5 L17.5,-24.5 M17.2,-21.5 C15.5,-24 13.2,-25 10.5,-25 C5.2,-25 2.2,-19 2.2,-12 C2.2,-4.8 5.2,0.5 10.6,0.5 C13.8,0.5 16.3,-1.2 18.2,-4.2" transform="translate(0.6,3.2)"/><path d="M10.35,-16.2 C5.8,-16.2 2.9,-12.6 2.9,-7.9 C2.9,-3.1 5.8,0.4 10.35,0.4 C14.9,0.4 17.8,-3.1 17.8,-7.9 C17.8,-12.6 14.9,-16.2 10.35,-16.2 Z" transform="translate(21.3,3.2)"/><path d="M1.5,-25 L4.8,-25 L4.8,0.2 M4.8,-12 C6,-15 8.5,-16.2 11.2,-16.2 C15.2,-16.2 18,-12.8 18,-7.9 C18,-3 15.2,0.4 11.2,0.4 C8.5,0.4 6,-0.8 4.8,-4" transform="translate(42.0,3.2)"/><path d="M10.35,-23.5 L10.35,-21.3 M6.2,-16 L10.6,-16 L10.6,0 M5,0 L16.5,0" transform="translate(62.7,3.2)"/><path d="M10.35,-16.2 C5.8,-16.2 2.9,-12.6 2.9,-7.9 C2.9,-3.1 5.8,0.4 10.35,0.4 C14.9,0.4 17.8,-3.1 17.8,-7.9 C17.8,-12.6 14.9,-16.2 10.35,-16.2 Z" transform="translate(83.4,3.2)"/><path d="M3,-8.6 L17.8,-8.6 C17.8,-13.4 14.8,-16.2 10.5,-16.2 C6,-16.2 3,-12.6 3,-7.8 C3,-2.9 6.2,0.4 10.8,0.4 C13.8,0.4 16.2,-0.9 17.8,-3.4" transform="translate(104.1,3.2)"/><path d="M4,-16 L7.6,-16 L7.6,0 M3,0 L14,0 M7.6,-10.5 C9.2,-14.4 12,-16.2 15,-16.2 C16.6,-16.2 17.8,-15.6 18.4,-14.6" transform="translate(124.8,3.2)"/><path d="M13,-32 L3,-29 M2,-22 L15,-22 M8.5,-29 L8.5,3 M8.5,-20 L1,-6 M9.5,-18 L14,-13 M20,-28 L23,-25 M19,-20 L23,-17 M17,-10 L36,-12 M29,-33 L29,4" transform="translate(167.8,3)"/><path d="M9,-33 L2,-16 M6,-23 L6,4 M13,-30 L36,-30 M23,-30 L20,-24 M15,-24 L15,3 M34,-24 L34,3 M15,-24 L34,-24 M15,-11 L34,-11 M15,1 L34,1" transform="translate(208.1,3)"/><path d="M10,-32 L3,-18 M8,-23 L33,-23 M18,-34 L18,1 M6,-11 L31,-11 M1,1 L36,1" transform="translate(248.4,3)"/><path d="M6,-31 L2,-22 M3,-22 L14,-23 M8,-34 L8,4 M1,-7 L15,-13 M22,-33 L17,-22 M20,-26 L35,-26 L33,0 L29,-1 M26,-24 L19,-8 M31,-22 L22,-3" transform="translate(288.7,3)"/></g><g transform="translate(1060.3,603.2) rotate(20.8)" stroke="#c0cac0" opacity="0.56" stroke-width="1.3" fill="none" stroke-linecap="round"><path d="M17.5,-20.5 L17.5,-24.5 M17.2,-21.5 C15.5,-24 13.2,-25 10.5,-25 C5.2,-25 2.2,-19 2.2,-12 C2.2,-4.8 5.2,0.5 10.6,0.5 C13.8,0.5 16.3,-1.2 18.2,-4.2" transform="translate(0.6,3.2)"/><path d="M10.35,-16.2 C5.8,-16.2 2.9,-12.6 2.9,-7.9 C2.9,-3.1 5.8,0.4 10.35,0.4 C14.9,0.4 17.8,-3.1 17.8,-7.9 C17.8,-12.6 14.9,-16.2 10.35,-16.2 Z" transform="translate(21.3,3.2)"/><path d="M1.5,-25 L4.8,-25 L4.8,0.2 M4.8,-12 C6,-15 8.5,-16.2 11.2,-16.2 C15.2,-16.2 18,-12.8 18,-7.9 C18,-3 15.2,0.4 11.2,0.4 C8.5,0.4 6,-0.8 4.8,-4" transform="translate(42.0,3.2)"/><path d="M10.35,-23.5 L10.35,-21.3 M6.2,-16 L10.6,-16 L10.6,0 M5,0 L16.5,0" transform="translate(62.7,3.2)"/><path d="M10.35,-16.2 C5.8,-16.2 2.9,-12.6 2.9,-7.9 C2.9,-3.1 5.8,0.4 10.35,0.4 C14.9,0.4 17.8,-3.1 17.8,-7.9 C17.8,-12.6 14.9,-16.2 10.35,-16.2 Z" transform="translate(83.4,3.2)"/><path d="M3,-8.6 L17.8,-8.6 C17.8,-13.4 14.8,-16.2 10.5,-16.2 C6,-16.2 3,-12.6 3,-7.8 C3,-2.9 6.2,0.4 10.8,0.4 C13.8,0.4 16.2,-0.9 17.8,-3.4" transform="translate(104.1,3.2)"/><path d="M4,-16 L7.6,-16 L7.6,0 M3,0 L14,0 M7.6,-10.5 C9.2,-14.4 12,-16.2 15,-16.2 C16.6,-16.2 17.8,-15.6 18.4,-14.6" transform="translate(124.8,3.2)"/><path d="M13,-32 L3,-29 M2,-22 L15,-22 M8.5,-29 L8.5,3 M8.5,-20 L1,-6 M9.5,-18 L14,-13 M20,-28 L23,-25 M19,-20 L23,-17 M17,-10 L36,-12 M29,-33 L29,4" transform="translate(167.8,3)"/><path d="M9,-33 L2,-16 M6,-23 L6,4 M13,-30 L36,-30 M23,-30 L20,-24 M15,-24 L15,3 M34,-24 L34,3 M15,-24 L34,-24 M15,-11 L34,-11 M15,1 L34,1" transform="translate(208.1,3)"/><path d="M10,-32 L3,-18 M8,-23 L33,-23 M18,-34 L18,1 M6,-11 L31,-11 M1,1 L36,1" transform="translate(248.4,3)"/><path d="M6,-31 L2,-22 M3,-22 L14,-23 M8,-34 L8,4 M1,-7 L15,-13 M22,-33 L17,-22 M20,-26 L35,-26 L33,0 L29,-1 M26,-24 L19,-8 M31,-22 L22,-3" transform="translate(288.7,3)"/></g></svg></body></html>
